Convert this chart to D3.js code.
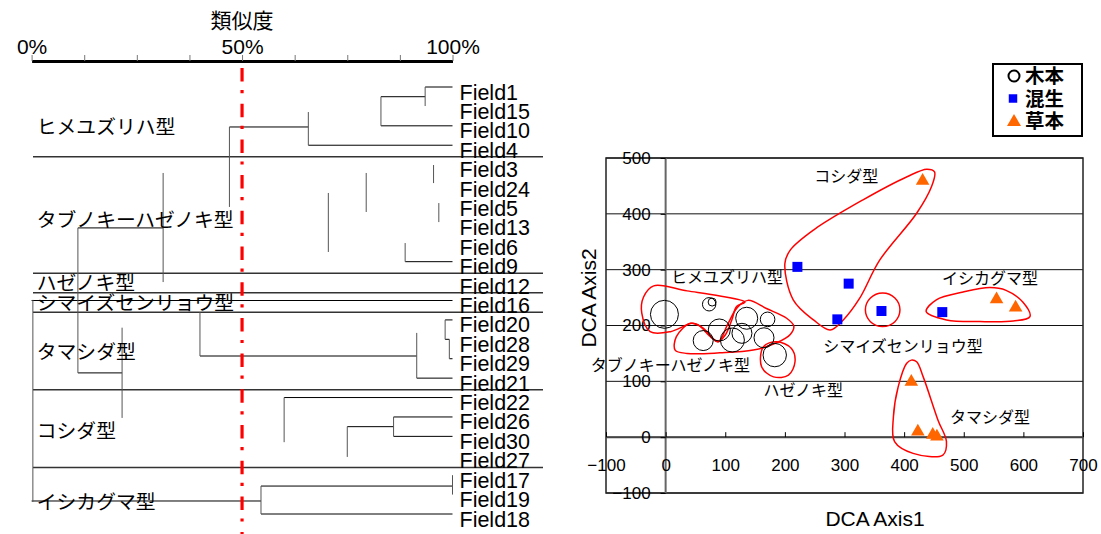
<!DOCTYPE html>
<html>
<head>
<meta charset="utf-8">
<script src="https://cdn.jsdelivr.net/npm/d3@7"></script>
<style>
body { margin: 0; background: #fff; }
svg { display: block; }
text { font-family: "Liberation Sans", Arial, sans-serif; fill: #000; }
.jp { font-family: "Noto Sans CJK JP", "Liberation Sans", sans-serif; }
</style>
</head>
<body>
<svg id="chart" width="1101" height="534"></svg>
<script>
// ---- dendrogram data ----
const leaves = ["Field1","Field15","Field10","Field4","Field3","Field24","Field5","Field13","Field6","Field9",
    "Field12","Field16","Field20","Field28","Field29","Field21","Field22","Field26","Field30","Field27",
    "Field17","Field19","Field18"];
const groupNames = ["ヒメユズリハ型","タブノキーハゼノキ型","ハゼノキ型","シマイズセンリョウ型","タマシダ型","コシダ型","イシカグマ型"];
const groupLast = [3, 9, 10, 11, 15, 19, 22];
const groupLabelRow = [2.05, 6.85, 10.1, 11.1, 13.65, 17.7, 21.4];
const simTicks = [0, 12.5, 25, 37.5, 50, 62.5, 75, 87.5, 100];
const simLabels = [0, 50, 100];
const cutLevel = 50;

// horizontal links: [row, similarity from, similarity to]
const hLinks = [
    [0, 93.5, 100], [0.5, 83, 93.5], [2, 83, 100], [3, 65.75, 100], [2.06, 47, 65.75],
    [9, 88.75, 100], [7.26, 11, 31.25], [11, 0, 100], [13.86, 40, 91.5], [15, 91.5, 100],
    [12, 98.25, 100], [13, 98.25, 99.25], [14, 99.25, 100], [14.73, 11, 21.5],
    [16, 60, 100], [17, 86, 100], [18, 86, 100], [17.5, 75, 86],
    [20.56, 54.5, 100], [22, 54.5, 100], [21.33, 0, 54.5]
];
// vertical links: [similarity, row from, row to]
const vLinks = [
    [93.5, 0, 0.98], [83, 0.5, 2], [65.75, 1.29, 3], [47, 2.06, 6.18], [95.5, 4.02, 4.95],
    [79.5, 4.43, 6.44], [31.25, 4.43, 10.05], [70.5, 5.46, 8.5], [96.75, 5.98, 6.96],
    [88.75, 8.04, 9], [11, 7.26, 14.73], [0.3, 10.97, 21.38], [40, 11.6, 13.86],
    [91.5, 12.67, 15], [98.25, 12, 13], [99.25, 13, 14], [21.5, 12.4, 17.05],
    [60, 16, 18.3], [86, 17, 18], [75, 17.5, 19.06], [100, 20, 21], [54.5, 20.56, 22]
];

// ---- DCA scatter data ----
const woody = [[-2,220],[73,238],[78,242],[136,213],[171,211],[90,192],[63,173],[112,174],[128,186],[165,178],[183,147]];
const woodySize = [14, 6.7, 4, 11, 7.3, 11, 10, 12, 10, 10, 11.7];
const mixed = [[221,305],[307,275],[288,211],[362,226],[464,224]];
const herb = [[431,459],[555,247],[587,232],[412,99],[423,10],[448,4],[455,1]];
const xTicks = [-100, 0, 100, 200, 300, 400, 500, 600, 700];
const yTicks = [-100, 0, 100, 200, 300, 400, 500];
const legendNames = ["木本", "混生", "草本"];

// outlines of the types, in DCA units
const outlines = [
    [[-37,251],[-20,271],[36,262],[91,253],[133,242],[119,234],[111,210],[100,183],[88,171],[75,180],[55,201],[44,204],[8,189],[-26,189],[-40,222]],
    [[16,156],[18,180],[42,204],[62,196],[88,171],[104,202],[120,232],[138,245],[170,230],[203,213],[215,199],[209,184],[186,169],[147,156],[91,151],[36,150]],
    [[164,162],[186,171],[211,159],[217,135],[206,111],[181,108],[161,126]],
    [[451,475],[438,480],[404,466],[331,425],[248,371],[209,335],[200,311],[214,246],[248,210],[276,192],[298,210],[325,248],[359,317],[421,401],[446,449]],
    [[437,225],[454,246],[499,260],[544,268],[571,263],[599,242],[611,216],[583,208],[527,207],[471,210]],
    [[412,138],[404,132],[390,90],[382,36],[384,-8],[415,-29],[465,-32],[471,-8],[457,30],[432,108],[421,135]]
];
const shimaizuRing = { x: 364, y: 228, rx: 29, ry: 30 };
const typeLabels = [
    { t: "コシダ型", x: 303, y: 468 },
    { t: "ヒメユズリハ型", x: 103, y: 287 },
    { t: "イシカグマ型", x: 544, y: 285 },
    { t: "シマイズセンリョウ型", x: 398, y: 162 },
    { t: "タブノキーハゼノキ型", x: 8, y: 129 },
    { t: "ハゼノキ型", x: 231, y: 84 },
    { t: "タマシダ型", x: 544, y: 36 }
];

const svg = d3.select("#chart");
svg.append("rect").attr("width", 1101).attr("height", 534).attr("fill", "#fff");

// ================= dendrogram =================
const xs = d3.scaleLinear().domain([0, 100]).range([31.6, 452.5]);
const yr = d3.scaleLinear().domain([0, 22]).range([87, 514]);
const dg = svg.append("g");

dg.append("text").attr("class", "jp")
    .attr("x", xs(50)).attr("y", 28)
    .attr("text-anchor", "middle").attr("font-size", 21)
    .text("類似度");

const simAxis = d3.axisTop(xs)
    .tickValues(simTicks)
    .tickSize(6).tickSizeOuter(0).tickPadding(1)
    .tickFormat(d => simLabels.includes(d) ? d + "%" : "");
const ag = dg.append("g").attr("transform", "translate(0,61)").call(simAxis);
ag.select(".domain").attr("stroke", "#000").attr("stroke-width", 3);
ag.selectAll(".tick line").attr("stroke", "#777");
ag.selectAll(".tick text").attr("font-size", 21).attr("fill", "#000")
    .attr("font-family", "Liberation Sans, Arial, sans-serif");

// group separators
dg.selectAll(".sep").data(groupLast.slice(0, -1)).enter().append("line")
    .attr("x1", 33).attr("x2", 543)
    .attr("y1", d => yr(d + 0.6)).attr("y2", d => yr(d + 0.6))
    .attr("stroke", "#333").attr("stroke-width", 1.5);

dg.selectAll(".hl").data(hLinks).enter().append("line")
    .attr("x1", d => xs(d[1])).attr("x2", d => xs(d[2]))
    .attr("y1", d => yr(d[0])).attr("y2", d => yr(d[0]))
    .attr("stroke", "#000").attr("stroke-width", 1);

dg.selectAll(".vl").data(vLinks).enter().append("line")
    .attr("x1", d => xs(d[0])).attr("x2", d => xs(d[0]))
    .attr("y1", d => yr(d[1])).attr("y2", d => yr(d[2]))
    .attr("stroke", "#555").attr("stroke-width", 1);

dg.selectAll(".leaf").data(leaves).enter().append("text")
    .attr("x", 459.5).attr("y", (d, i) => yr(i) + 12.5)
    .attr("font-size", 21.5)
    .text(d => d);

dg.selectAll(".grp").data(groupNames).enter().append("text")
    .attr("class", "jp")
    .attr("x", 36.8).attr("y", (d, i) => yr(groupLabelRow[i]))
    .attr("dy", "0.36em").attr("font-size", 19.8)
    .text(d => d);

// cut line at 50%
dg.append("line")
    .attr("x1", xs(cutLevel)).attr("x2", xs(cutLevel))
    .attr("y1", 68).attr("y2", 534)
    .attr("stroke", "#ff0000").attr("stroke-width", 3.2)
    .attr("stroke-dasharray", "13.5,8.5,3.2,10.5");

// ================= DCA scatter =================
const x = d3.scaleLinear().domain([-100, 700]).range([606, 1083]);
const y = d3.scaleLinear().domain([-100, 500]).range([493, 158]);
const sz = d3.scaleLinear().domain([0, 14]).range([0, 14]);
const sc = svg.append("g");

sc.selectAll(".grid").data(yTicks).enter().append("line")
    .attr("x1", x(-100)).attr("x2", x(700))
    .attr("y1", d => y(d)).attr("y2", d => y(d))
    .attr("stroke", "#111").attr("stroke-width", 1);

sc.append("rect")
    .attr("x", x(-100)).attr("y", y(500))
    .attr("width", x(700) - x(-100)).attr("height", y(-100) - y(500))
    .attr("fill", "none").attr("stroke", "#222").attr("stroke-width", 1.5);

sc.append("line")
    .attr("x1", x(0)).attr("x2", x(0)).attr("y1", y(500)).attr("y2", y(-100))
    .attr("stroke", "#666").attr("stroke-width", 2);
sc.append("line")
    .attr("x1", x(-100)).attr("x2", x(700)).attr("y1", y(0)).attr("y2", y(0))
    .attr("stroke", "#444").attr("stroke-width", 2);

const xAxis = d3.axisBottom(x).tickValues(xTicks).tickSize(-5).tickSizeOuter(0).tickPadding(22);
const gx = sc.append("g").attr("transform", `translate(0,${y(0)})`).call(xAxis);
gx.select(".domain").remove();
gx.selectAll(".tick line").attr("stroke", "#000");
gx.selectAll(".tick text").attr("font-size", 17).attr("fill", "#000")
    .attr("font-family", "Liberation Sans, Arial, sans-serif");

const yAxis = d3.axisLeft(y).tickValues(yTicks).tickSize(5).tickSizeOuter(0).tickPadding(10);
const gy = sc.append("g").attr("transform", `translate(${x(0)},0)`).call(yAxis);
gy.select(".domain").remove();
gy.selectAll(".tick line").attr("stroke", "#000");
gy.selectAll(".tick text").attr("font-size", 17).attr("fill", "#000")
    .attr("font-family", "Liberation Sans, Arial, sans-serif");

sc.append("text")
    .attr("x", 875).attr("y", 526)
    .attr("text-anchor", "middle").attr("font-size", 21)
    .text("DCA Axis1");
sc.append("text")
    .attr("transform", "translate(596,298) rotate(-90)")
    .attr("text-anchor", "middle").attr("font-size", 21)
    .text("DCA Axis2");

// type outlines
const blob = d3.line().x(d => x(d[0])).y(d => y(d[1])).curve(d3.curveCatmullRomClosed.alpha(0.5));
sc.selectAll(".blob").data(outlines).enter().append("path")
    .attr("d", blob)
    .attr("fill", "none").attr("stroke", "#ff0000").attr("stroke-width", 1.5);
sc.append("ellipse")
    .attr("cx", x(shimaizuRing.x)).attr("cy", y(shimaizuRing.y))
    .attr("rx", x(shimaizuRing.rx) - x(0)).attr("ry", y(0) - y(shimaizuRing.ry))
    .attr("fill", "none").attr("stroke", "#ff0000").attr("stroke-width", 1.5);

// points
sc.selectAll(".woody").data(woody).enter().append("circle")
    .attr("cx", d => x(d[0])).attr("cy", d => y(d[1]))
    .attr("r", (d, i) => sz(woodySize[i]))
    .attr("fill", "none").attr("stroke", "#000").attr("stroke-width", 1);

sc.selectAll(".mixed").data(mixed).enter().append("path")
    .attr("transform", d => `translate(${x(d[0])},${y(d[1])})`)
    .attr("d", d3.symbol(d3.symbolSquare, 100))
    .attr("fill", "#0000ff");

sc.selectAll(".herb").data(herb).enter().append("path")
    .attr("transform", d => `translate(${x(d[0])},${y(d[1])})`)
    .attr("d", d3.symbol(d3.symbolTriangle, 80))
    .attr("fill", "#ff6600");

sc.selectAll(".tlab").data(typeLabels).enter().append("text")
    .attr("class", "jp")
    .attr("x", d => x(d.x)).attr("y", d => y(d.y))
    .attr("dy", "0.36em").attr("text-anchor", "middle").attr("font-size", 16)
    .text(d => d.t);

// legend
const lg = svg.append("g").attr("transform", "translate(993,64)");
lg.append("rect").attr("width", 89).attr("height", 72)
    .attr("fill", "#fff").attr("stroke", "#000").attr("stroke-width", 2);
const rows = lg.selectAll(".row").data(legendNames).enter().append("g")
    .attr("transform", (d, i) => `translate(0,${12 + i * 22.5})`);
rows.append("text").attr("class", "jp")
    .attr("x", 32).attr("dy", "0.36em")
    .attr("font-size", 19.5).attr("font-weight", "bold")
    .text(d => d);
rows.filter((d, i) => i === 0).append("circle")
    .attr("cx", 21).attr("r", 5.5)
    .attr("fill", "none").attr("stroke", "#000").attr("stroke-width", 2);
rows.filter((d, i) => i === 1).append("path")
    .attr("transform", "translate(20,0)")
    .attr("d", d3.symbol(d3.symbolSquare, 72)).attr("fill", "#0000ff");
rows.filter((d, i) => i === 2).append("path")
    .attr("transform", "translate(21,1)")
    .attr("d", d3.symbol(d3.symbolTriangle, 85)).attr("fill", "#ff6600");
</script>
</body>
</html>
